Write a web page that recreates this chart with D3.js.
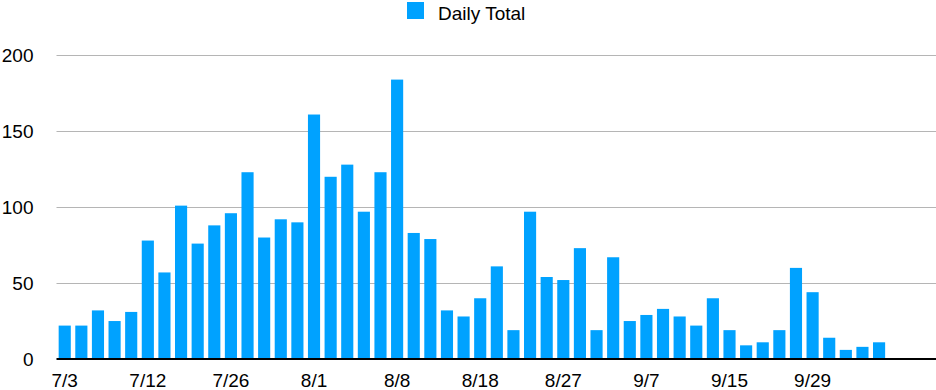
<!DOCTYPE html>
<html>
<head>
<meta charset="utf-8">
<script src="https://cdn.jsdelivr.net/npm/d3@7"></script>
<style>
  html, body { margin: 0; padding: 0; background: #fff; }
  svg { display: block; font-family: "Liberation Sans", Arial, Helvetica, sans-serif; }
</style>
</head>
<body>
<svg id="chart" width="936" height="390"></svg>
<script>
const seriesName = "Daily Total";
const values = [22, 22, 32, 25, 31, 78, 57, 101, 76, 88,
                96, 123, 80, 92, 90, 161, 120, 128, 97, 123,
                184, 83, 79, 32, 28, 40, 61, 19, 97, 54,
                52, 73, 19, 67, 25, 29, 33, 28, 22, 40,
                19, 9, 11, 19, 60, 44, 14, 6, 8, 11];
const tickLabels = ["7/3", "7/12", "7/26", "8/1", "8/8", "8/18", "8/27", "9/7", "9/15", "9/29"];
const tickEvery = 5;
const yTicks = [0, 50, 100, 150, 200];

const color = "#00a2ff";
const fontSize = 19;
const svg = d3.select("#chart");
const plotLeft = 56.5, plotRight = 936;
const y0 = 359, yTop = 55.3;

const idx = values.map((d, i) => i);
const x = d3.scaleBand().domain(idx).range([56.5, 887.3]).paddingInner(0.27).paddingOuter(0.13);
const y = d3.scaleLinear().domain([0, 200]).range([y0, yTop]);

// gridlines
svg.append("g").selectAll("line").data(yTicks.filter(t => t > 0)).join("line")
  .attr("x1", plotLeft).attr("x2", plotRight)
  .attr("y1", d => Math.round(y(d)) + 0.5).attr("y2", d => Math.round(y(d)) + 0.5)
  .attr("stroke", "#b5b5b5").attr("stroke-width", 1);

// y labels
svg.append("g").selectAll("text").data(yTicks).join("text")
  .attr("x", 33.5).attr("y", d => y(d)).attr("dy", "0.35em")
  .attr("text-anchor", "end").attr("font-size", fontSize).attr("fill", "#000")
  .text(d => d);

// bars
svg.append("g").selectAll("rect").data(values).join("rect")
  .attr("x", (d, i) => x(i)).attr("width", x.bandwidth())
  .attr("y", d => y(d)).attr("height", d => y0 - y(d))
  .attr("fill", color);

// baseline
svg.append("line").attr("x1", plotLeft).attr("x2", plotRight)
  .attr("y1", y0).attr("y2", y0).attr("stroke", "#000").attr("stroke-width", 2.2);

// x axis labels
const xAxis = d3.axisBottom(x)
  .tickValues(idx.filter(i => i % tickEvery === 0))
  .tickFormat(i => tickLabels[i / tickEvery])
  .tickSize(0).tickPadding(0);
const gx = svg.append("g").attr("transform", `translate(0,${y0})`).call(xAxis);
gx.select(".domain").remove();
gx.selectAll("text").attr("font-size", fontSize).attr("fill", "#000")
  .attr("font-family", "Liberation Sans, Arial, sans-serif")
  .attr("dy", null).attr("y", 27.5);

// legend
const lg = svg.append("g");
lg.append("rect").attr("x", 407).attr("y", 2).attr("width", 17).attr("height", 17).attr("fill", color);
lg.append("text").attr("x", 438).attr("y", 19.5).attr("font-size", fontSize).attr("fill", "#000").text(seriesName);
</script>
</body>
</html>
